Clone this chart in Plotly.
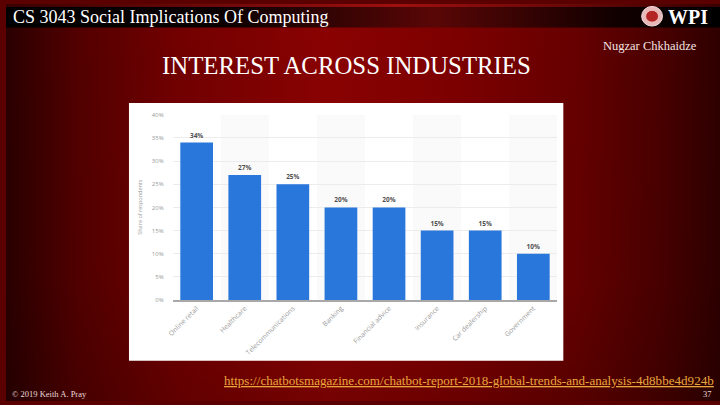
import base64
import plotly.graph_objects as go

categories = ["Online retail", "Healthcare", "Telecommunications", "Banking",
              "Financial advice", "Insurance", "Car dealership", "Government"]
shares = [34, 27, 25, 20, 20, 15, 15, 10]
y_ticks = [0, 5, 10, 15, 20, 25, 30, 35, 40]
y_tick_labels = ["0%", "5%", "10%", "15%", "20%", "25%", "30%", "35%", "40%"]

W, H = 720, 405


def px(x):
    return x / W


def py(y):
    return 1 - y / H


svg = """<svg xmlns="http://www.w3.org/2000/svg" width="720" height="405" viewBox="0 0 720 405" preserveAspectRatio="none">
<defs>
<linearGradient id="g" x1="0" x2="1" y1="0" y2="0">
<stop offset="0" stop-color="#2a0000"/>
<stop offset="0.1" stop-color="#520000"/>
<stop offset="0.24" stop-color="#720000"/>
<stop offset="0.45" stop-color="#8a0202"/>
<stop offset="0.62" stop-color="#7e0000"/>
<stop offset="0.8" stop-color="#660000"/>
<stop offset="0.92" stop-color="#480000"/>
<stop offset="1" stop-color="#2e0000"/>
</linearGradient>
<linearGradient id="v" x1="0" x2="0" y1="0" y2="1">
<stop offset="0" stop-color="#000000" stop-opacity="0"/>
<stop offset="0.7" stop-color="#000000" stop-opacity="0.03"/>
<stop offset="1" stop-color="#000000" stop-opacity="0.15"/>
</linearGradient>
<linearGradient id="b" x1="0" x2="1" y1="0" y2="0">
<stop offset="0" stop-color="#000000"/>
<stop offset="0.3" stop-color="#0a0000"/>
<stop offset="0.6" stop-color="#5a0606"/>
<stop offset="0.85" stop-color="#120000"/>
<stop offset="1" stop-color="#000000"/>
</linearGradient>
<linearGradient id="t" x1="0" x2="1" y1="0" y2="0">
<stop offset="0" stop-color="#3a0000"/>
<stop offset="0.55" stop-color="#a01010"/>
<stop offset="1" stop-color="#3a0000"/>
</linearGradient>
</defs>
<rect width="720" height="405" fill="url(#g)"/>
<rect width="720" height="405" fill="url(#v)"/>
<rect x="0" y="0" width="720" height="24" fill="url(#b)"/>
<rect x="0" y="0" width="720" height="3" fill="url(#t)"/>
</svg>"""
svg_src = "data:image/svg+xml;base64," + base64.b64encode(svg.encode()).decode()

fig = go.Figure()
fig.add_trace(go.Bar(
    x=categories, y=shares,
    marker=dict(color="#2a77dc", line=dict(width=0)),
    text=[f"{v}%" for v in shares], textposition="outside",
    textfont=dict(family="Open Sans", size=6.5, color="#505050", weight="bold"),
    cliponaxis=False, hoverinfo="skip",
))

shapes = [
    # white chart image box
    dict(type="rect", xref="paper", yref="paper", x0=px(124), x1=px(562),
         y0=py(364), y1=py(101), fillcolor="white", line=dict(width=0), layer="below"),
    # WPI seal
    dict(type="circle", xref="paper", yref="paper", x0=px(641), x1=px(662),
         y0=py(22.5), y1=py(2.5), fillcolor="#e8b8b8", line=dict(color="#f4dede", width=1)),
    dict(type="circle", xref="paper", yref="paper", x0=px(645), x1=px(658),
         y0=py(18.5), y1=py(6.5), fillcolor="#b52424", line=dict(color="#f0d0d0", width=0.8)),
]
for i in range(1, len(categories), 2):
    shapes.append(dict(type="rect", xref="x", yref="y", x0=i - 0.5, x1=i + 0.5,
                       y0=0, y1=40, fillcolor="#fafafa", line=dict(width=0), layer="below"))

serif = "Liberation Serif"
annotations = [
    dict(text="CS 3043 Social Implications Of Computing", x=px(5), y=py(13.5),
         xanchor="left", yanchor="middle", font=dict(family=serif, size=18, color="white")),
    dict(text="INTEREST ACROSS INDUSTRIES", x=px(343), y=py(63),
         xanchor="center", yanchor="middle", font=dict(family=serif, size=24.8, color="white")),
    dict(text="Nugzar Chkhaidze", x=px(699), y=py(43),
         xanchor="right", yanchor="middle", font=dict(family=serif, size=12.5, color="#f2e4e4")),
    dict(text="<b>WPI</b>", x=px(688), y=py(13),
         xanchor="center", yanchor="middle", font=dict(family=serif, size=20, color="white")),
    dict(text="<u>https://chatbotsmagazine.com/chatbot-report-2018-global-trends-and-analysis-4d8bbe4d924b</u>",
         x=px(716), y=py(384), xanchor="right", yanchor="middle",
         font=dict(family=serif, size=13.1, color="#e9a63c")),
    dict(text="© 2019 Keith A. Pray", x=px(4), y=py(398), xanchor="left", yanchor="middle",
         font=dict(family=serif, size=8.5, color="#e8dcdc")),
    dict(text="37", x=px(714), y=py(398), xanchor="right", yanchor="middle",
         font=dict(family=serif, size=8.5, color="#e8dcdc")),
    dict(text="Share of respondents", x=px(135), y=py(207), xanchor="center", yanchor="middle",
         textangle=-90, font=dict(family="Open Sans", size=5.5, color="#999999")),
]
for a in annotations:
    a.update(xref="paper", yref="paper", showarrow=False)

fig.update_layout(
    width=W, height=H, autosize=False,
    margin=dict(l=0, r=0, t=0, b=0),
    paper_bgcolor="#5a0000", plot_bgcolor="rgba(0,0,0,0)",
    showlegend=False, bargap=0.32,
    images=[dict(source=svg_src, xref="paper", yref="paper", x=0, y=1, sizex=1, sizey=1,
                 xanchor="left", yanchor="top", sizing="stretch", layer="below")],
    shapes=shapes, annotations=annotations,
    xaxis=dict(domain=[px(168), px(556)], showgrid=False, showline=True,
               linecolor="#a8a8a8", linewidth=1.5, ticks="", tickangle=-45,
               tickfont=dict(family="Open Sans", size=6.8, color="#9a9a9a"),
               fixedrange=True),
    yaxis=dict(domain=[py(302), py(113)], range=[0, 40], tickvals=y_ticks,
               ticktext=y_tick_labels, showgrid=True, gridcolor="#ececec", gridwidth=1,
               zeroline=False, showline=False, ticks="", ticklabelstandoff=8,
               tickfont=dict(family="Open Sans", size=6, color="#999999"),
               fixedrange=True),
)

fig.write_html("out.html", config={"displayModeBar": False},
               post_script="document.body.style.margin='0';document.body.style.overflow='hidden';")
